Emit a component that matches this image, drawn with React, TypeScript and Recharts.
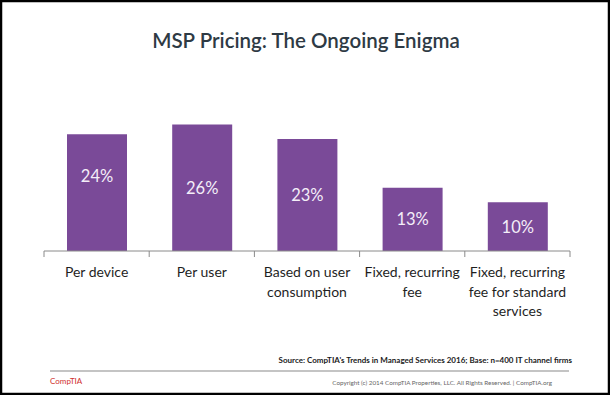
import React from "react";
import { BarChart, Bar, XAxis, YAxis, LabelList } from "recharts";

const categories = [
  "Per device",
  "Per user",
  "Based on user\nconsumption",
  "Fixed, recurring\nfee",
  "Fixed, recurring\nfee for standard\nservices",
];
const shares = [24, 26, 23, 13, 10];

const title = "MSP Pricing: The Ongoing Enigma";
const sourceNote = "Source: CompTIA's Trends in Managed Services 2016; Base: n=400 IT channel firms";
const copyright = "Copyright (c) 2014 CompTIA Properties, LLC. All Rights Reserved.  |  CompTIA.org";
const brand = "CompTIA";

const data = categories.map((c, i) => ({ name: c, value: shares[i] }));

const W = 610;
const H = 395;
const PLOT_LEFT = 44;
const PLOT_RIGHT = 570;
const BAND = (PLOT_RIGHT - PLOT_LEFT) / categories.length;
const FONT = "Lato, 'Open Sans', sans-serif";
const PURPLE = "#7a4a98";

const CategoryTick = (props: any) => {
  const { x, y, payload, index } = props;
  const lines = String(payload.value).split("\n");
  const left = x - BAND / 2;
  return (
    <g>
      <line x1={left} x2={left} y1={y} y2={y + 6} stroke="#8a8a8a" strokeWidth={1} />
      {index === categories.length - 1 && (
        <line x1={x + BAND / 2} x2={x + BAND / 2} y1={y} y2={y + 6} stroke="#8a8a8a" strokeWidth={1} />
      )}
      {lines.map((ln, i) => (
        <text
          key={i}
          x={x}
          y={y + 26 + i * 19.5}
          textAnchor="middle"
          fontFamily={FONT}
          fontSize={14}
          fill="#1f1f1f"
        >
          {ln}
        </text>
      ))}
    </g>
  );
};

const ValueLabel = (props: any) => {
  const { x, y, width, height, value, index } = props;
  const shift = index === 0 ? -17 : 0;
  return (
    <text
      x={x + width / 2}
      y={y + height / 2 + shift}
      textAnchor="middle"
      dominantBaseline="central"
      fontFamily={FONT}
      fontSize={16.5}
      fill="#f4eef8"
    >
      {value}%
    </text>
  );
};

export default function App() {
  return (
    <div style={{ position: "absolute", left: 0, top: 0, width: W, height: H, background: "#fff" }}>
      <svg width={W} height={H} style={{ position: "absolute", left: 0, top: 0 }}>
        <rect x={1} y={1} width={W - 2} height={H - 2} fill="#fff" stroke="#000" strokeWidth={2.5} />
        <text x={306} y={48} textAnchor="middle" fontFamily={FONT} fontSize={20.5} fontWeight={600} fill="#2e3a44">
          {title}
        </text>
        <text x={572} y={363} textAnchor="end" fontFamily={FONT} fontSize={8} fontWeight={700} fill="#1a1a1a">
          {sourceNote}
        </text>
        <line x1={50} x2={569} y1={371} y2={371} stroke="#8a8a8a" strokeWidth={1.2} />
        <text x={50} y={384} fontFamily={FONT} fontSize={8} fill="#d0312d">
          {brand}
        </text>
        <text x={552} y={385} textAnchor="end" fontFamily={FONT} fontSize={6.3} fill="#666">
          {copyright}
        </text>
      </svg>
      <div style={{ position: "absolute", left: 0, top: 0 }}>
        <BarChart
          width={W}
          height={H}
          data={data}
          margin={{ top: 105, right: W - PLOT_RIGHT, left: PLOT_LEFT, bottom: H - 251 - 70 }}
        >
          <XAxis
            dataKey="name"
            interval={0}
            height={70}
            tickSize={0}
            tickMargin={0}
            tickLine={false}
            axisLine={{ stroke: "#8a8a8a", strokeWidth: 1 }}
            tick={<CategoryTick />}
          />
          <YAxis hide domain={[0, 30]} width={0} />
          <Bar dataKey="value" fill={PURPLE} barSize={60} isAnimationActive={false}>
            <LabelList dataKey="value" content={<ValueLabel />} />
          </Bar>
        </BarChart>
      </div>
    </div>
  );
}
